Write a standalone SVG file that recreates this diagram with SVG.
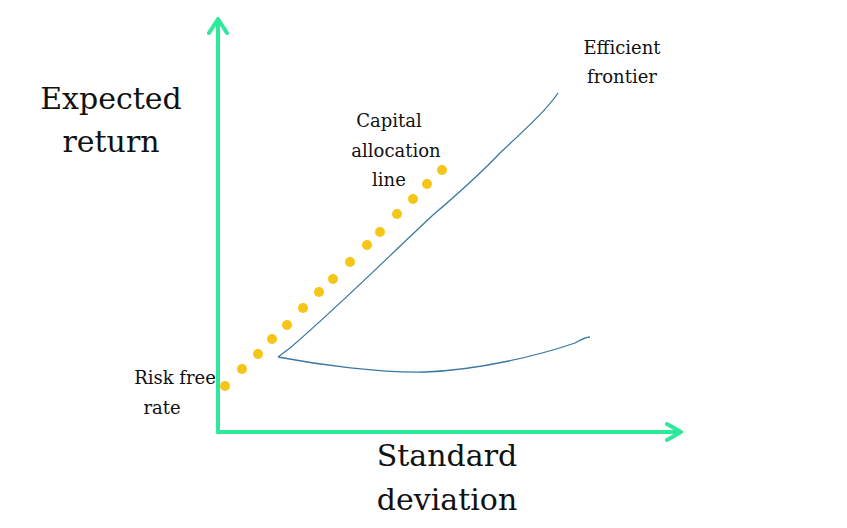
<svg xmlns="http://www.w3.org/2000/svg" width="847" height="528" viewBox="0 0 847 528">
<style>
.ax{stroke:#2ee89b;stroke-width:4;fill:none;stroke-linecap:round;stroke-linejoin:round}
.big{font-family:"DejaVu Serif",serif;font-size:30px;fill:#111;text-anchor:middle}
.sm{font-family:"DejaVu Serif",serif;font-size:18px;fill:#111;text-anchor:middle}
.d{fill:#f5c518}
</style>
<rect width="847" height="528" fill="#fff"/>
<g id="axes">
<path class="ax" d="M218,432 V20 M209,33 L218,19 L227,33"/>
<path class="ax" d="M218,432 H680 M667,424 L681,432 L667,440"/>
</g>
<g id="frontier">
<path d="M278,357 L290,348 C340,305 390,255 433,215 C460,192 482,172 500,153 C530,125 548,108 558,93 M278,357 C320,365 380,373 425,372 C480,370 540,355 575,343 C582,339 586,337 590,337" fill="none" stroke="#3a78a0" stroke-width="1.3"/>
</g>
<g id="cal">
<circle class="d" cx="225" cy="386" r="5"/><circle class="d" cx="242" cy="369" r="5"/><circle class="d" cx="258" cy="354" r="5"/><circle class="d" cx="272" cy="339" r="5"/><circle class="d" cx="287" cy="325" r="5"/><circle class="d" cx="303" cy="308" r="5"/><circle class="d" cx="319" cy="292" r="5"/><circle class="d" cx="333" cy="279" r="5"/><circle class="d" cx="350" cy="262" r="5"/><circle class="d" cx="367" cy="245" r="5"/><circle class="d" cx="380" cy="232" r="5"/><circle class="d" cx="397" cy="214" r="5"/><circle class="d" cx="413" cy="199" r="5"/><circle class="d" cx="427" cy="184" r="5"/><circle class="d" cx="442" cy="170" r="5"/>
</g>
<g id="labels">
<text class="big" x="111" y="109">Expected</text>
<text class="big" x="111" y="152">return</text>
<text class="big" x="447" y="466">Standard</text>
<text class="big" x="447" y="510">deviation</text>
<text class="sm" x="389" y="127">Capital</text>
<text class="sm" x="396" y="157">allocation</text>
<text class="sm" x="389" y="186">line</text>
<text class="sm" x="622" y="54">Efficient</text>
<text class="sm" x="622" y="83">frontier</text>
<text class="sm" x="175" y="384">Risk free</text>
<text class="sm" x="162" y="414">rate</text>
</g>
</svg>
